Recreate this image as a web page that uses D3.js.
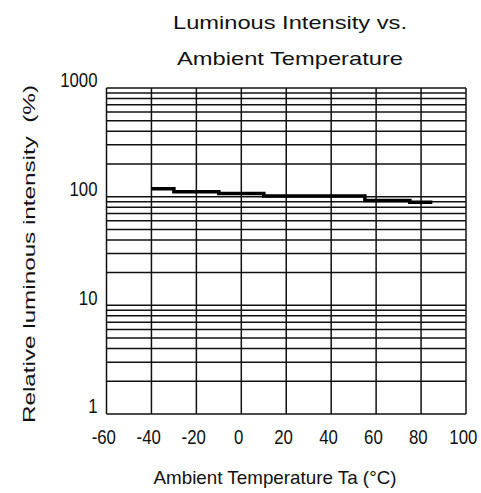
<!DOCTYPE html>
<html>
<head>
<meta charset="utf-8">
<script src="https://cdn.jsdelivr.net/npm/d3@7"></script>
<style>
  body { margin: 0; background: #fff; }
  text { fill: #111; }
</style>
</head>
<body>
<script>
// step points: temperature (°C) -> relative intensity (%)
const temps = [-40, -30, -10, 10, 55, 75, 85],
      intensity = [118, 111, 107, 101.5, 92, 89, 89];

const xTicks = [-60, -40, -20, 0, 20, 40, 60, 80, 100],
      yTicks = [1, 10, 100, 1000];

const titleLines = ["Luminous Intensity vs.", "Ambient Temperature"],
      xTitle = "Ambient Temperature Ta (°C)",
      yTitle = "Relative luminous intensity  (%)";

const margin = {top: 88, right: 15, bottom: 79, left: 106.5},
      W = 481, H = 493,
      width = W - margin.left - margin.right,
      height = H - margin.top - margin.bottom;

const svg = d3.select("body").append("svg")
  .attr("width", W)
  .attr("height", H);

const x = d3.scaleLinear().domain([-60, 100]).range([margin.left, margin.left + width]),
      y = d3.scaleLog().domain([1, 1000]).range([margin.top + height, margin.top]);

// minor log grid 1..9 per decade
const gridY = [];
[1, 10, 100].forEach(d => { for (let k = 1; k < 10; k++) gridY.push(d * k); });
gridY.push(1000);

const grid = svg.append("g").attr("stroke", "#111").attr("stroke-width", 1.5);

grid.selectAll(".h").data(gridY).enter().append("line")
  .attr("x1", margin.left).attr("x2", margin.left + width)
  .attr("y1", d => y(d)).attr("y2", d => y(d));

grid.selectAll(".v").data(xTicks).enter().append("line")
  .attr("x1", d => x(d)).attr("x2", d => x(d))
  .attr("y1", margin.top).attr("y2", margin.top + height);

// tick labels, squeezed sideways to look like the narrow bitmap digits
const tickFont = "'Liberation Sans', Arial, sans-serif";
const squeeze = sel => sel
  .attr("font-family", tickFont).attr("font-size", 21)
  .attr("transform", "scale(0.8,1)")
  .style("fill", "#111");

const xAxis = svg.append("g")
  .attr("transform", "translate(0," + (margin.top + height) + ")")
  .call(d3.axisBottom(x).tickValues(xTicks).tickFormat(d => String(d)).tickSize(0).tickPadding(15));
xAxis.select(".domain").remove();
xAxis.selectAll("text").attr("dx", -4).call(squeeze);

const yAxis = svg.append("g")
  .attr("transform", "translate(" + (margin.left - 9) + ",0)")
  .call(d3.axisLeft(y).tickValues(yTicks).tickFormat(d => String(d)).tickSize(0).tickPadding(0));
yAxis.select(".domain").remove();
yAxis.selectAll("text").attr("dy", "-0.05em").call(squeeze);

// data
const line = d3.line()
  .x((d, i) => x(temps[i]))
  .y(d => y(d))
  .curve(d3.curveStepAfter);

svg.append("path")
  .datum(intensity)
  .attr("d", line)
  .attr("fill", "none")
  .attr("stroke", "#000")
  .attr("stroke-width", 3.5);

// titles
const lab = "'Liberation Sans', Arial, sans-serif";

svg.selectAll(".title").data(titleLines).enter().append("text")
  .attr("x", 290)
  .attr("y", (d, i) => 29 + i * 36)
  .attr("text-anchor", "middle")
  .attr("font-family", lab).attr("font-size", 19)
  .attr("textLength", (d, i) => i ? 226 : 234)
  .attr("lengthAdjust", "spacingAndGlyphs")
  .text(d => d);

svg.append("text")
  .attr("x", 275).attr("y", 484)
  .attr("text-anchor", "middle")
  .attr("font-family", lab).attr("font-size", 19)
  .attr("textLength", 243)
  .attr("lengthAdjust", "spacingAndGlyphs")
  .text(xTitle);

svg.append("text")
  .attr("transform", "translate(35,254) rotate(-90)")
  .attr("text-anchor", "middle")
  .attr("font-family", lab).attr("font-size", 17)
  .attr("textLength", 338)
  .attr("lengthAdjust", "spacingAndGlyphs")
  .style("white-space", "pre")
  .text(yTitle);
</script>
</body>
</html>
